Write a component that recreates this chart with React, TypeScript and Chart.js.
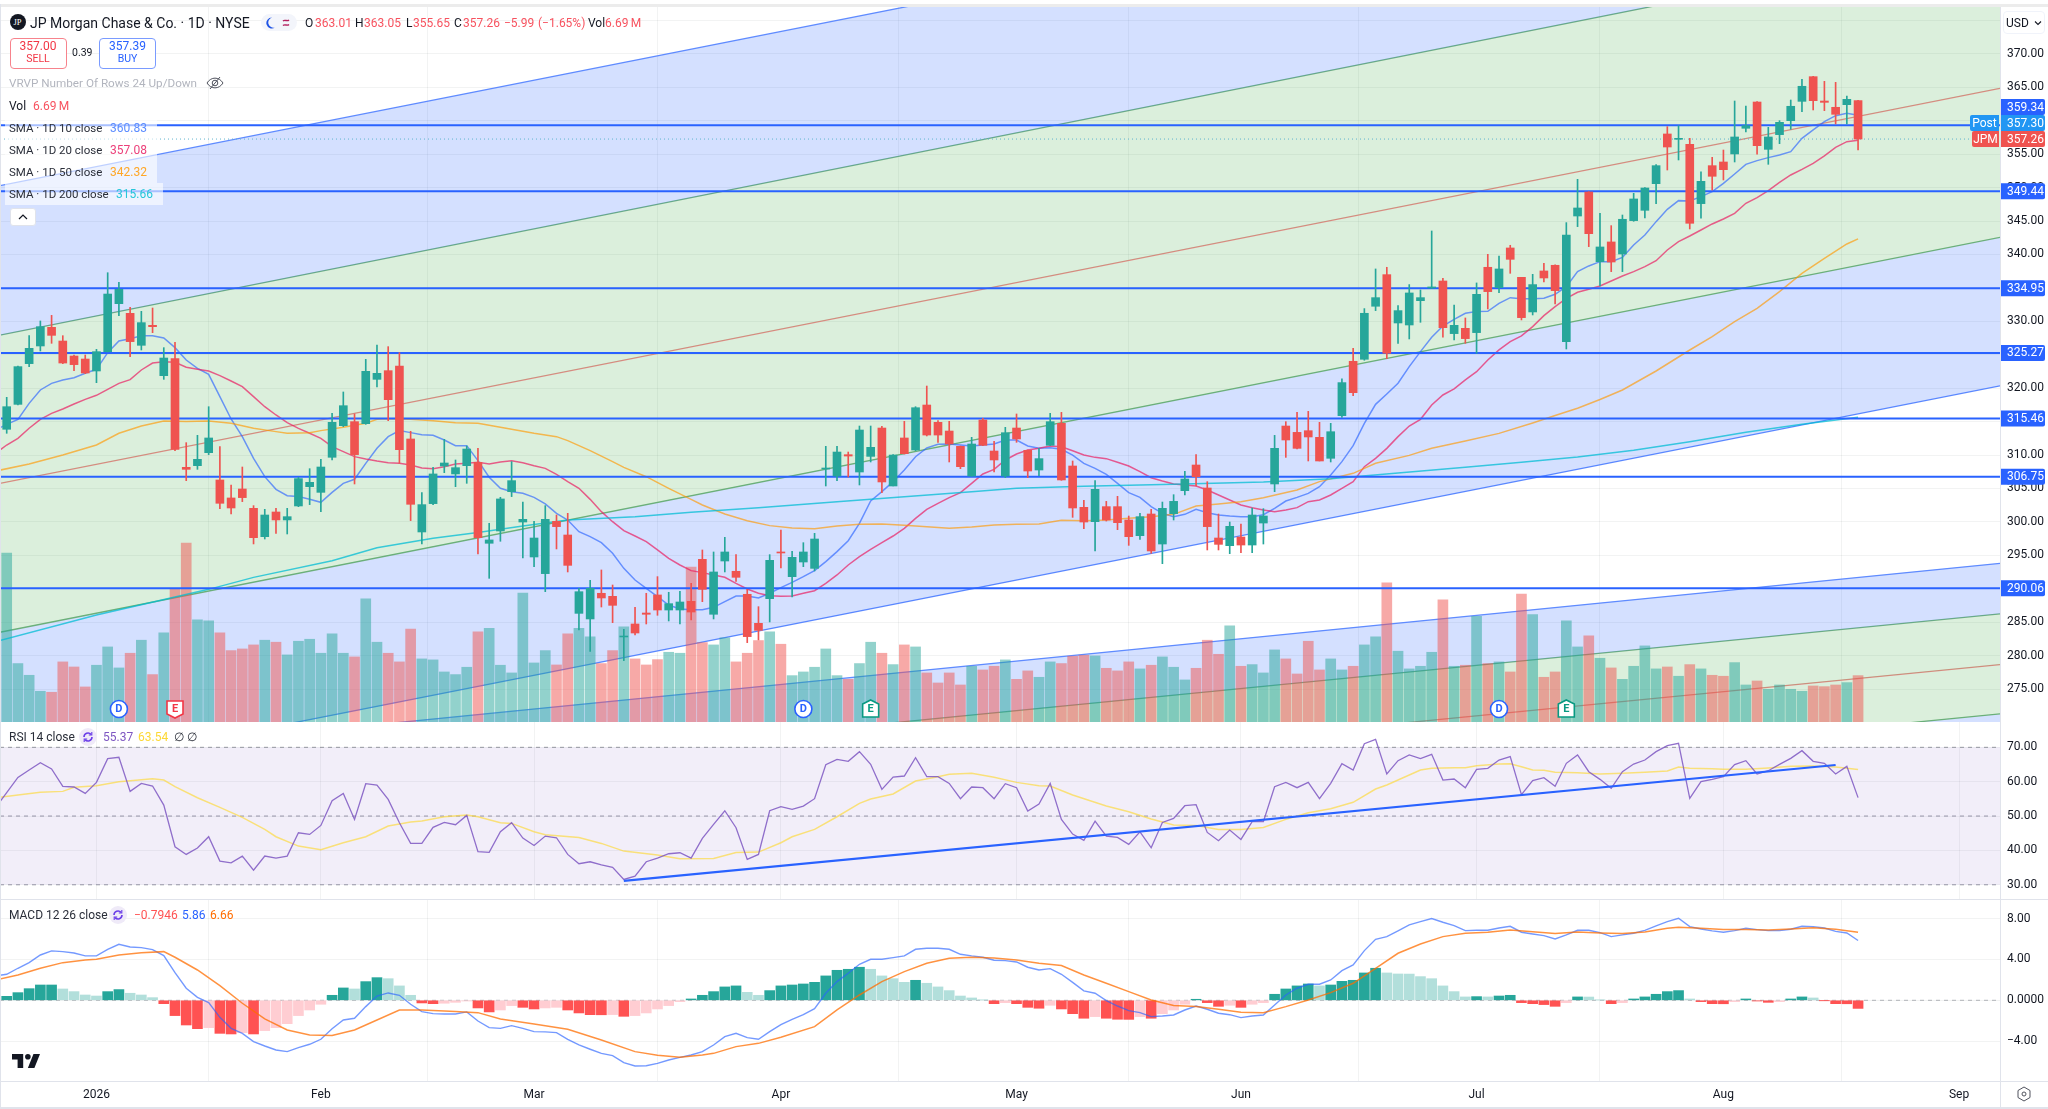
import React, { useEffect, useRef } from "react";
import { Chart, registerables } from "chart.js";

Chart.register(...registerables);

const opens = [313.85,317.58,323.67,326.31,329.10,327.05,324.81,324.36,322.57,325.46,
332.64,331.19,326.41,329.40,321.87,324.41,308.16,308.41,310.35,306.27,
303.58,304.92,302.03,297.79,301.48,300.29,302.38,305.27,304.42,309.66,
314.39,314.99,314.69,321.32,322.62,323.32,312.40,298.49,302.73,308.36,
307.17,308.41,308.91,296.80,298.64,304.52,299.98,294.75,292.26,300.08,
298.04,286.32,285.48,289.32,288.87,282.79,284.73,286.37,289.07,286.82,
286.82,288.12,294.40,286.18,294.15,292.61,289.17,284.83,288.52,295.50,
291.81,294.00,293.05,307.91,306.86,310.05,307.46,309.80,314.04,305.37,
312.55,310.75,317.48,314.89,313.59,311.30,306.86,315.24,310.60,306.86,
314.04,310.70,307.76,311.45,314.74,308.36,302.18,300.03,302.28,302.28,
300.28,297.94,301.18,296.69,301.23,304.67,308.51,305.07,297.59,296.44,
297.74,296.54,299.83,305.67,314.34,313.39,313.64,312.65,309.51,315.89,
324.02,324.32,332.25,336.98,329.75,329.45,333.09,334.99,336.03,328.16,
328.95,328.31,338.08,335.04,340.97,336.58,331.40,337.53,338.38,326.96,
345.75,349.34,338.92,341.87,340.07,345.06,346.60,350.59,358.02,357.22,
356.47,347.60,353.28,353.83,355.03,358.87,362.80,355.72,357.92,360.01,
362.90,366.59,362.95,362.01,362.40,363.01];

const closes = [317.23,323.22,325.96,329.20,327.90,323.76,323.52,322.27,325.46,334.08,
334.78,326.96,329.80,329.20,324.51,310.85,307.86,309.36,312.55,302.78,
302.08,303.63,297.64,301.03,300.29,300.78,306.47,305.92,308.21,314.89,
317.38,310.06,322.52,322.22,318.28,310.80,302.63,302.58,307.17,308.81,
308.11,310.90,297.64,297.30,303.43,306.17,300.38,297.59,300.38,299.29,
293.50,289.56,290.06,288.62,287.52,282.93,283.38,286.18,286.82,287.77,
288.02,286.52,289.91,292.51,295.50,291.71,282.84,283.78,294.25,295.35,
294.70,295.50,297.44,308.06,310.45,309.85,313.74,311.15,305.97,310.00,
310.20,317.08,312.99,312.99,311.65,308.26,311.65,311.45,309.26,313.34,
312.40,307.61,309.46,314.99,306.27,302.08,299.98,304.87,300.28,299.88,
297.79,300.78,295.65,302.03,303.07,306.41,306.76,299.29,296.64,299.34,
296.54,301.03,300.88,311.00,312.25,311.00,312.70,309.11,313.49,320.83,
319.33,331.20,333.54,325.22,331.60,334.24,333.54,335.14,329.05,329.40,
327.41,334.04,334.44,337.83,339.27,330.55,335.49,336.48,334.59,342.91,
346.95,343.11,341.12,338.87,345.26,348.30,349.94,353.28,356.07,357.37,
344.66,350.94,351.69,352.68,357.57,359.26,356.27,357.57,359.76,362.16,
365.15,363.00,362.75,360.96,363.20,357.26];

const highs = [318.63,323.30,327.85,330.05,330.89,327.85,324.96,324.96,325.81,337.27,
335.83,332.09,331.49,331.99,326.06,326.86,311.85,312.95,317.23,311.25,
305.52,308.21,302.43,301.88,302.03,302.03,306.67,307.96,309.36,316.24,
319.43,316.14,324.31,326.46,326.21,325.31,313.55,304.37,308.16,312.35,
309.26,311.35,311.00,299.79,303.68,309.01,302.97,300.08,302.43,301.03,
301.28,290.06,291.26,292.81,290.56,283.93,287.22,289.32,291.81,289.47,
289.61,290.81,295.80,295.50,297.69,295.10,289.91,287.32,295.10,298.79,
295.60,296.89,298.29,311.30,311.30,310.45,314.34,314.34,314.29,310.05,
315.04,317.23,320.32,315.14,315.04,311.35,312.65,315.49,312.05,314.14,
316.14,310.75,311.00,316.24,316.38,309.11,303.22,306.17,303.07,303.82,
300.88,301.28,301.88,302.97,304.07,307.56,310.05,306.02,301.18,299.98,
299.68,302.08,301.98,312.94,314.99,316.38,316.53,314.89,314.74,321.38,
325.96,331.90,337.83,338.08,332.34,335.49,334.69,343.51,336.43,332.44,
330.50,335.74,340.02,339.77,341.37,336.58,337.03,338.68,338.43,344.76,
351.24,349.39,346.15,344.31,345.90,349.14,349.99,353.43,359.11,359.26,
357.37,352.34,354.53,355.62,362.95,362.21,362.85,359.01,360.01,363.10,
366.19,366.64,365.89,365.74,363.70,363.05];

const lows = [313.25,317.48,323.22,325.56,326.71,323.67,322.62,322.17,320.82,325.41,
330.84,324.71,325.71,328.30,321.32,310.65,306.17,307.86,310.06,301.98,
301.18,303.03,296.70,297.44,298.29,298.19,302.28,302.58,301.53,309.26,
314.24,305.67,314.59,320.18,315.14,308.76,300.19,296.70,302.58,307.36,
305.27,305.77,295.20,291.56,297.10,303.78,294.60,293.30,289.56,295.95,
292.51,283.83,280.64,287.27,284.93,279.25,283.08,284.73,286.03,285.18,
284.73,285.33,288.07,285.48,292.51,291.11,281.94,282.34,285.03,293.10,
288.77,293.30,292.66,305.37,306.17,306.71,305.52,308.96,304.37,305.37,
310.15,310.65,312.85,311.90,308.96,307.96,306.81,311.40,307.46,306.61,
311.90,306.61,306.91,311.40,306.22,300.68,298.99,295.65,300.13,298.84,
296.49,297.39,295.30,293.75,300.28,304.02,305.37,295.80,295.80,295.25,
295.40,295.40,296.69,304.52,309.65,310.90,309.11,309.11,308.96,315.64,
318.88,324.17,331.60,324.42,326.71,327.36,329.85,334.89,327.61,327.21,
326.71,325.22,331.85,334.29,337.18,330.20,330.95,335.88,332.59,325.86,
344.16,341.17,335.29,337.43,337.43,344.96,345.45,347.60,352.63,354.13,
343.81,345.41,349.64,351.14,353.83,358.32,354.98,353.48,356.57,358.72,
361.36,361.61,361.51,359.51,359.51,355.65];

const volumes = [24.36,8.43,6.74,4.43,4.29,8.67,7.94,5.06,8.19,10.83,
7.80,9.92,11.80,6.84,12.86,19.26,25.81,14.73,14.59,12.86,
10.30,10.54,11.12,11.80,11.51,9.68,11.65,11.94,9.92,12.71,
9.92,9.39,17.77,11.51,9.92,8.67,13.39,9.10,8.96,7.22,
6.84,7.90,13.00,13.53,8.19,7.08,18.59,8.52,10.30,8.23,
12.71,13.53,12.28,8.43,10.30,13.72,9.10,8.23,9.00,10.06,
9.92,22.34,11.46,11.12,12.13,8.67,9.92,11.75,13.00,11.22,
6.69,7.22,7.90,10.54,6.69,6.16,8.43,11.51,9.92,8.28,
11.12,10.83,7.08,5.63,7.08,5.34,8.04,7.51,8.04,8.96,
6.16,7.37,6.45,8.67,8.43,9.49,9.63,9.53,7.75,7.37,
8.67,7.66,8.19,9.39,7.90,6.07,7.75,11.80,9.77,13.87,
8.04,8.28,7.08,10.40,9.10,6.93,11.65,7.51,9.10,7.51,
8.04,11.12,12.28,20.08,10.21,7.66,8.04,10.06,17.62,8.04,
8.19,15.26,8.43,8.67,7.22,18.44,15.50,6.45,7.22,14.59,
10.83,12.42,9.20,7.80,6.16,8.04,10.98,7.66,7.94,6.60,
8.28,7.66,6.74,6.60,8.57,5.34,5.92,4.72,5.34,4.72,
4.43,5.20,5.10,5.34,5.68,6.69];

// The line series below begin one session before the first visible candle.
const sma10 = [313.74,314.59,315.34,317.73,319.73,320.72,321.22,321.57,322.22,322.82,325.31,
327.05,327.40,327.85,327.85,327.50,326.06,324.21,322.97,322.07,318.73,
315.39,312.75,309.51,306.77,304.87,303.92,303.78,303.38,302.93,304.42,
305.77,306.37,308.76,311.00,312.75,313.65,313.35,313.05,312.95,312.25,
311.40,311.40,309.16,306.67,305.02,304.52,304.27,303.67,302.68,301.28,
300.28,298.54,297.79,296.89,295.30,293.05,291.31,290.06,288.82,287.57,
286.97,286.87,286.87,287.22,288.07,288.92,288.92,288.62,289.32,290.16,
290.96,291.81,292.71,294.05,295.55,297.19,299.78,303.12,304.52,306.02,
307.76,309.75,311.05,311.60,311.65,311.50,311.35,311.50,311.65,312.25,
312.25,311.35,311.00,311.10,310.85,310.00,308.76,308.01,307.11,305.77,
304.37,303.67,302.28,301.28,300.78,301.13,301.88,301.38,301.03,300.88,
300.78,300.78,301.08,302.03,303.12,303.67,304.27,305.27,307.01,309.01,
311.40,314.74,317.58,319.13,320.73,323.22,325.47,327.61,329.30,330.30,
331.20,331.45,331.50,332.69,333.54,333.39,333.39,333.44,334.04,335.19,
337.43,338.28,338.92,338.92,339.57,341.42,342.91,344.91,346.75,348.05,
348.00,348.65,349.39,350.64,352.04,353.48,354.03,354.48,354.88,355.38,
357.37,358.62,359.86,360.76,361.11,360.83];

const sma20 = [310.25,311.50,312.50,314.00,315.34,316.24,316.89,317.63,318.33,318.93,319.83,
320.72,321.27,322.72,323.76,323.96,323.86,323.12,322.82,322.57,321.87,
321.07,320.23,318.73,317.23,315.99,314.84,313.99,313.25,312.50,311.25,
310.50,309.76,309.41,309.11,308.86,308.76,308.51,308.06,307.96,308.26,
308.66,308.76,308.91,308.66,308.96,309.16,308.86,308.41,308.01,307.11,
306.02,305.02,303.37,301.53,300.03,298.69,297.89,297.04,295.80,294.55,
293.55,292.71,292.41,292.06,291.71,290.81,289.96,289.32,288.97,288.87,
288.92,289.32,289.71,290.81,292.06,293.55,294.80,295.90,296.89,297.89,
299.04,300.53,301.88,302.78,303.62,304.37,305.77,307.16,307.86,309.26,
310.15,310.75,311.00,311.35,311.25,310.65,310.00,309.65,309.46,308.91,
308.36,307.51,306.61,306.12,305.67,305.52,305.37,304.77,304.02,303.27,
302.53,302.13,301.78,301.53,301.78,302.13,303.02,303.27,304.02,305.02,
306.02,308.26,309.51,311.00,312.75,314.34,315.34,317.48,318.98,319.90,
321.23,322.47,324.22,325.72,326.96,327.81,329.20,330.85,332.20,333.44,
334.34,334.79,335.29,336.03,336.78,337.43,338.18,339.07,340.67,341.92,
342.76,343.66,344.56,345.31,346.15,347.65,348.50,349.54,350.79,351.89,
352.73,353.63,354.73,356.02,356.87,357.08];

const sma50Sessions = [-1,2,5,8,10,12,14,16,18,20,22,24,25,27,28,30,32,33,34,36,38,40,42,44,47,49,50,52,54,55,57,59,61,62,64,66,68,70,72,74,76,78,80,82,84,86,88,90,92,94,96,98,100,102,104,106,108,110,112,115,117,120,122,125,127,130,133,136,138,140,142,144,147,150,152,154,156,158,160,162,164,165];
const sma50 = [307.60,308.66,310.00,311.50,313.25,314.34,315.09,315.00,315.09,314.74,314.00,313.50,313.25,313.35,313.65,314.14,314.74,315.34,315.44,315.34,315.14,314.84,314.74,314.14,313.25,312.75,312.15,310.65,309.01,308.16,306.76,305.02,303.37,302.53,301.18,300.18,299.44,299.09,298.99,299.39,299.63,299.68,299.49,299.29,299.04,299.24,299.54,299.63,299.69,300.23,300.18,300.28,300.53,300.78,301.13,302.38,302.68,303.02,303.62,304.77,306.02,307.26,308.76,309.95,311.00,312.10,313.24,314.80,315.90,317.00,318.30,319.73,322.57,325.71,327.71,329.95,331.95,334.44,337.18,339.42,341.57,342.32];

const sma200Sessions = [-1,8,18,22,29,33,38,42,46,50,56,61,67,74,80,86,90,96,104,112,118,124,130,135,140,145,150,155,160,165];
const sma200 = [282.08,286.07,289.91,291.70,294.20,296.14,297.54,298.43,299.38,300.28,300.78,301.43,302.13,303.02,303.77,304.52,305.02,305.32,305.62,305.97,306.46,307.31,308.16,308.91,309.70,310.70,312.00,313.40,314.60,315.66];

const rsi = [52.43,56.79,61.26,63.40,65.53,63.69,58.64,58.45,56.60,59.80,66.70,
67.09,57.18,59.51,58.74,53.20,41.07,38.83,40.68,43.98,36.89,
36.40,38.35,34.27,38.35,37.76,38.35,45.14,44.66,47.28,54.46,
56.60,49.03,59.42,59.03,54.85,48.06,42.04,42.04,46.70,48.15,
47.47,50.19,39.61,39.42,45.43,48.06,43.59,41.45,44.17,43.69,
38.83,36.12,36.70,35.82,35.05,31.55,32.52,36.70,37.76,39.03,
39.32,37.76,43.49,47.57,51.55,46.60,37.38,38.83,51.55,52.72,
51.94,52.91,55.05,64.95,66.50,65.92,68.74,65.05,57.77,61.36,
61.65,66.99,61.45,61.45,59.51,55.05,58.45,58.25,55.05,59.42,
58.25,51.45,53.49,59.51,49.03,44.76,42.91,48.54,44.17,43.78,
41.75,45.43,40.77,48.15,49.32,53.01,53.30,45.24,42.81,45.92,
43.20,48.35,48.35,58.54,59.80,58.25,59.80,55.05,59.51,65.24,
63.40,71.07,72.33,62.23,66.12,67.77,66.70,67.96,60.48,60.77,
58.25,63.59,63.88,66.31,67.28,56.21,60.29,61.16,58.64,65.34,
67.77,62.91,60.68,58.06,62.91,65.14,66.31,68.74,70.48,71.16,
55.14,60.00,60.68,61.45,64.95,66.12,62.23,63.20,65.05,66.79,
69.03,65.92,65.34,62.23,64.46,55.37];

const rsiMaSessions = [-1,1,3,5,6,8,10,13,14,15,17,19,21,23,24,26,28,30,32,34,36,37,39,41,42,44,45,47,48,51,53,55,58,60,63,65,67,69,70,72,74,76,77,79,81,83,84,86,88,90,92,93,95,98,100,102,104,106,108,110,112,114,116,118,120,122,123,125,126,127,129,130,131,133,134,135,136,137,138,140,142,144,146,148,149,150,152,153,155,157,159,161,163,165];
const rsiMa = [55.30,56.11,56.90,57.18,58.35,58.83,60.00,60.87,60.48,58.54,55.34,52.52,49.61,46.11,43.98,41.26,40.19,42.23,43.98,47.08,48.25,48.54,49.80,50.29,49.80,48.06,47.86,45.43,44.56,43.78,42.04,39.80,38.64,37.57,37.67,39.42,39.51,42.23,43.98,46.11,49.80,53.69,54.95,56.41,60.19,61.45,62.13,62.43,61.26,59.80,58.83,58.74,56.11,52.91,51.26,49.12,47.38,47.28,46.11,46.11,46.70,49.03,50.97,52.13,54.00,57.86,59.03,61.94,63.40,63.88,64.08,64.08,64.66,65.14,65.24,64.37,63.40,63.30,62.72,62.62,62.23,62.43,62.72,63.11,64.27,63.88,63.78,63.59,63.59,63.98,64.46,64.56,64.27,63.54];

const macdHist = [0.39,0.75,1.14,1.50,1.50,1.11,0.85,0.52,0.42,0.85,
1.05,0.69,0.52,0.26,-0.33,-1.50,-2.42,-2.78,-2.68,-3.24,
-3.30,-3.17,-3.30,-2.97,-2.68,-2.29,-1.50,-0.95,-0.39,0.49,
1.21,1.11,1.83,2.22,2.12,1.41,0.49,-0.26,-0.33,-0.29,
-0.20,-0.07,-0.75,-1.14,-0.95,-0.52,-0.69,-0.85,-0.75,-0.69,
-0.95,-1.24,-1.41,-1.42,-1.40,-1.57,-1.50,-1.24,-0.85,-0.52,
-0.13,0.13,0.49,0.85,1.31,1.41,0.78,0.49,0.95,1.41,
1.50,1.60,1.76,2.39,2.94,3.04,3.24,3.04,2.39,2.12,
1.76,1.96,1.67,1.31,0.95,0.42,0.23,0.03,-0.33,-0.23,
-0.33,-0.69,-0.78,-0.49,-0.85,-1.31,-1.76,-1.60,-1.76,-1.86,
-1.87,-1.60,-1.76,-1.31,-0.95,-0.39,0.10,-0.23,-0.59,-0.49,
-0.69,-0.39,-0.23,0.59,1.11,1.41,1.60,1.41,1.50,1.86,
1.96,2.68,3.14,2.68,2.58,2.57,2.32,2.12,1.41,0.85,
0.33,0.36,0.33,0.42,0.49,-0.23,-0.33,-0.42,-0.59,-0.23,
0.33,0.32,0.03,-0.33,-0.23,0.13,0.33,0.59,0.85,0.95,
0.13,-0.13,-0.33,-0.34,-0.13,0.13,-0.07,-0.20,-0.13,0.13,
0.33,0.23,-0.02,-0.33,-0.34,-0.7946];

const macdLine = [2.39,2.55,3.14,3.69,4.44,4.84,4.77,4.64,4.35,4.35,5.00,
5.49,5.23,5.16,4.97,4.38,2.71,1.18,0.29,-0.23,-1.67,
-2.75,-3.24,-4.05,-4.48,-4.87,-5.03,-4.64,-4.31,-3.82,-2.78,
-1.93,-1.76,-0.62,0.42,0.72,0.49,-0.39,-1.11,-1.31,-1.34,
-1.34,-1.14,-2.03,-2.68,-2.75,-2.48,-2.75,-3.07,-3.10,-3.17,
-3.82,-4.38,-4.80,-5.20,-5.42,-6.11,-6.44,-6.41,-6.18,-5.85,
-5.59,-5.36,-5.03,-4.38,-3.56,-3.24,-3.66,-3.82,-3.07,-2.39,
-1.86,-1.41,-0.82,0.69,1.83,2.65,3.53,4.02,4.02,4.18,
4.35,5.00,5.10,5.10,5.00,4.51,4.35,4.22,3.92,3.89,
3.76,3.24,2.97,3.10,2.55,1.76,0.92,0.69,-0.03,-0.56,
-1.01,-1.21,-1.60,-1.54,-1.44,-0.95,-0.56,-0.88,-1.27,-1.41,
-1.70,-1.54,-1.44,-0.46,0.52,1.18,1.57,1.57,1.99,2.91,
3.46,4.87,5.98,6.24,6.80,7.39,7.71,8.01,7.65,7.32,
6.83,6.86,6.86,7.09,7.25,6.67,6.50,6.34,6.01,6.41,
6.86,6.86,6.63,6.24,6.41,6.57,6.86,7.29,7.71,8.04,
7.22,6.99,6.80,6.67,6.83,7.06,6.93,6.83,6.83,6.96,
7.25,7.22,7.09,6.76,6.60,5.86];

const signalSessions = [-1,1,3,5,7,8,10,12,14,15,17,19,21,23,25,27,29,31,33,35,37,40,42,44,47,50,53,56,58,60,62,63,65,67,69,72,74,76,78,80,82,84,86,88,90,92,94,96,98,100,102,104,106,108,110,112,114,116,118,120,122,124,126,128,130,132,134,136,138,140,142,144,146,148,149,151,153,155,157,159,161,163,165];
const signalLine = [2.00,2.48,3.14,3.69,3.95,4.02,4.44,4.67,4.77,4.22,2.97,1.44,-0.29,-1.83,-2.91,-3.40,-3.46,-2.91,-1.93,-0.95,-0.95,-1.11,-1.21,-1.83,-2.32,-2.84,-3.89,-5.03,-5.39,-5.59,-5.36,-5.20,-4.54,-4.22,-3.63,-2.58,-0.95,0.52,1.83,2.81,3.63,4.12,4.22,4.15,3.95,3.63,3.40,2.48,1.67,0.85,0.03,-0.52,-0.62,-0.88,-1.18,-1.21,-0.62,0.03,0.75,1.67,3.14,4.61,5.52,6.24,6.57,6.67,6.90,6.73,6.54,6.70,6.60,6.54,6.70,7.06,7.16,7.06,6.93,6.93,6.90,6.99,7.12,6.96,6.66];

const levels = [359.34, 349.44, 334.95, 325.27, 315.46, 306.75, 290.06];
const lastClose = 357.26;
const tagValues = [359.34, 357.30, 357.26, 349.44, 334.95, 325.27, 315.46, 306.75, 290.06];
const tagNames = ["", "Post", "JPM", "", "", "", "", "", ""];
const tagColors = ["#2962ff", "#2196f3", "#ef5350", "#2962ff", "#2962ff", "#2962ff", "#2962ff", "#2962ff", "#2962ff"];

// Two-point sloped channel levels (price at the left edge, price at the right edge).
const upperChannelLeft = [350.28, 327.92, 305.77, 283.49, 261.28];
const upperChannelRight = [409.36, 387.45, 364.85, 342.57, 320.35];
const upperChannelLines = ["#5f8bff", "#6fb07f", "#e08a84", "#6fb07f", "#5f8bff"];
const upperChannelFills = ["rgba(41,98,255,0.2)", "rgba(76,175,80,0.2)", "rgba(76,175,80,0.2)", "rgba(41,98,255,0.2)", ""];
const lowerChannelLeft = [264.07, 256.80, 249.40, 241.96];
const lowerChannelRight = [293.81, 286.25, 278.64, 271.28];
const lowerChannelLines = ["#5f8bff", "#6fb07f", "#e08a84", "#6fb07f"];
const lowerChannelFills = ["rgba(41,98,255,0.2)", "rgba(76,175,80,0.2)", "rgba(76,175,80,0.2)", "rgba(41,98,255,0.2)"];

const rsiTrendSessions = [55, 163];
const rsiTrendValues = [31.16, 64.85];
const rsiBands = [70, 50, 30];

const monthSessions = [8, 28, 47, 69, 90, 110, 131, 153, 174];
const monthLabels = ["2026", "Feb", "Mar", "Apr", "May", "Jun", "Jul", "Aug", "Sep"];
const markerSessions = [10, 15, 71, 77, 133, 139];
const markerLetters = ["D", "E", "D", "E", "D", "E"];
const markerColors = ["#2962ff", "#f23645", "#2962ff", "#089981", "#2962ff", "#089981"];

const XMIN = -0.597;
const XMAX = 177.65;
const GRID = "rgba(42,46,57,0.06)";
const FONT = "Roboto, 'Liberation Sans', sans-serif";
const INK = "#131722";
const GREEN = "#26a69a";
const RED = "#ef5350";

const series = (v: number[]) => v.map((y, k) => ({ x: k - 1, y }));
const pairs = (xs: number[], v: number[]) => v.map((y, k) => ({ x: xs[k], y }));
const span = (a: number, b: number) => [{ x: XMIN, y: a }, { x: XMAX, y: b }];

function xScale(showLabels: boolean) {
  return {
    type: "linear" as const,
    min: XMIN,
    max: XMAX,
    offset: false,
    afterBuildTicks: (s: any) => {
      s.ticks = monthSessions.map((value) => ({ value }));
    },
    afterFit: (s: any) => {
      s.height = showLabels ? 28 : 0;
      s.paddingLeft = 0;
      s.paddingRight = 0;
    },
    grid: { color: GRID, drawTicks: false },
    border: { display: false },
    ticks: {
      display: showLabels,
      autoSkip: false,
      maxRotation: 0,
      padding: 7,
      color: INK,
      font: { family: FONT, size: 12 },
      callback: (v: any) => monthLabels[monthSessions.indexOf(Number(v))] ?? "",
    },
  };
}

function yScale(min: number, max: number, step: number, fmt: (v: number) => string) {
  return {
    position: "right" as const,
    min,
    max,
    afterFit: (s: any) => {
      s.width = 48;
      s.paddingTop = 0;
      s.paddingBottom = 0;
    },
    grid: { color: GRID, drawTicks: false },
    border: { display: false },
    ticks: {
      stepSize: step,
      includeBounds: false,
      padding: 7,
      color: INK,
      autoSkip: false,
      font: { family: FONT, size: 12 },
      callback: (v: any) => fmt(Number(v)),
    },
  };
}

const line = (data: any[], color: string, width: number, order: number, extra: any = {}) => ({
  type: "line" as const,
  data,
  borderColor: color,
  borderWidth: width,
  pointRadius: 0,
  tension: 0,
  fill: false,
  order,
  ...extra,
});

const tagPlugin = {
  id: "tags",
  afterDraw(chart: any) {
    const { ctx, scales, chartArea } = chart;
    const y = scales.y;
    const h = 16;
    const placed: number[] = [];
    const idx = tagValues.map((_, i) => i).sort((a, b) => tagValues[a] - tagValues[b]);
    let prev = Infinity;
    idx.forEach((i) => {
      let c = y.getPixelForValue(tagValues[i]);
      if (prev - c < h) c = prev - h;
      placed[i] = c;
      prev = c;
    });
    ctx.save();
    ctx.font = `12px ${FONT}`;
    ctx.textBaseline = "middle";
    tagValues.forEach((v, i) => {
      const c = placed[i];
      const left = chartArea.right;
      ctx.fillStyle = tagColors[i];
      ctx.beginPath();
      ctx.roundRect(left, c - h / 2, 45, h, [0, 2, 2, 0]);
      ctx.fill();
      if (tagNames[i]) {
        const w = tagNames[i] === "Post" ? 30 : 28;
        ctx.beginPath();
        ctx.roundRect(left - w, c - h / 2, w - 1, h, [2, 0, 0, 2]);
        ctx.fill();
        ctx.fillStyle = "#fff";
        ctx.textAlign = "center";
        ctx.fillText(tagNames[i], left - w / 2 - 0.5, c + 0.5);
      }
      ctx.fillStyle = "#fff";
      ctx.textAlign = "left";
      ctx.fillText(v.toFixed(2), left + 7, c + 0.5);
    });
    ctx.restore();
  },
};

const markerPlugin = {
  id: "markers",
  afterDatasetsDraw(chart: any) {
    const { ctx, scales, chartArea } = chart;
    ctx.save();
    markerSessions.forEach((s, i) => {
      const x = scales.x.getPixelForValue(s);
      const y = chartArea.bottom - 13;
      const c = markerColors[i];
      ctx.lineWidth = 1.6;
      ctx.strokeStyle = c;
      ctx.fillStyle = "#fff";
      ctx.beginPath();
      if (markerLetters[i] === "D") {
        ctx.arc(x, y, 8.5, 0, Math.PI * 2);
      } else if (c === "#f23645") {
        ctx.moveTo(x - 8, y - 8);
        ctx.lineTo(x + 8, y - 8);
        ctx.lineTo(x + 8, y + 5);
        ctx.lineTo(x, y + 9);
        ctx.lineTo(x - 8, y + 5);
        ctx.closePath();
      } else {
        ctx.moveTo(x, y - 9);
        ctx.lineTo(x + 8, y - 5);
        ctx.lineTo(x + 8, y + 8);
        ctx.lineTo(x - 8, y + 8);
        ctx.lineTo(x - 8, y - 5);
        ctx.closePath();
      }
      ctx.fill();
      ctx.stroke();
      ctx.fillStyle = c;
      ctx.font = `bold 11px ${FONT}`;
      ctx.textAlign = "center";
      ctx.textBaseline = "middle";
      ctx.fillText(markerLetters[i], x, y + 0.5);
    });
    ctx.restore();
  },
};

const baseOptions = (scales: any, padding: any, plugins: any = {}) => ({
  responsive: false,
  animation: false as const,
  events: [] as any[],
  layout: { padding, autoPadding: false },
  plugins: { legend: { display: false }, tooltip: { enabled: false }, ...plugins },
  scales,
});

const txt = (x: number, y: number, s: string, color: string, size = 12, extra: any = {}) => (
  <span
    style={{
      position: "absolute",
      left: x,
      top: y - 10,
      height: 20,
      lineHeight: "20px",
      whiteSpace: "nowrap",
      color,
      fontSize: size,
      fontFamily: FONT,
      ...extra,
    }}
  >
    {s}
  </span>
);

const box = (x: number, y: number, w: number, h: number, style: any) => (
  <div style={{ position: "absolute", left: x, top: y, width: w, height: h, boxSizing: "border-box", ...style }} />
);

const cycleIcon = (x: number, y: number) => (
  <svg style={{ position: "absolute", left: x - 9, top: y - 9 }} width={18} height={18} viewBox="0 0 18 18">
    <circle cx="9" cy="9" r="9" fill="#efeaf8" />
    <path d="M5 9a4 4 0 0 1 7-2.6M13 9a4 4 0 0 1-7 2.6" fill="none" stroke="#6a3de8" strokeWidth="1.6" />
    <path d="M12.8 4v3h-3M5.2 14v-3h3" fill="none" stroke="#6a3de8" strokeWidth="1.1" />
  </svg>
);

export default function App() {
  const mainRef = useRef<HTMLCanvasElement>(null);
  const rsiRef = useRef<HTMLCanvasElement>(null);
  const macdRef = useRef<HTMLCanvasElement>(null);

  useEffect(() => {
    const candleColors = closes.map((c, i) => (c >= opens[i] ? GREEN : RED));
    const volColors = closes.map((c, i) => (c >= opens[i] ? "rgba(38,166,154,0.5)" : "rgba(239,83,80,0.5)"));
    const fillOf = (color: string, target: any) =>
      color ? { fill: { target, above: color, below: color }, backgroundColor: color } : {};

    const channelSets: any[] = [
      ...upperChannelLeft.map((a, i) =>
        line(span(a, upperChannelRight[i]), upperChannelLines[i], 1.3, 100, fillOf(upperChannelFills[i], "+1"))
      ),
      ...lowerChannelLeft.map((a, i) =>
        line(
          span(a, lowerChannelRight[i]),
          lowerChannelLines[i],
          1.3,
          100,
          fillOf(lowerChannelFills[i], i === lowerChannelLeft.length - 1 ? "start" : "+1")
        )
      ),
    ];

    const main = new Chart(mainRef.current as HTMLCanvasElement, {
      type: "bar",
      data: {
        datasets: [
          ...channelSets,
          {
            type: "bar",
            yAxisID: "vol",
            data: volumes.map((y, k) => ({ x: k, y })),
            backgroundColor: volColors,
            barThickness: 10,
            grouped: false,
            order: 90,
          },
          line(pairs(sma200Sessions, sma200), "rgba(0,188,212,0.75)", 1.5, 60),
          line(pairs(sma50Sessions, sma50), "rgba(255,152,0,0.65)", 1.5, 60),
          line(series(sma20), "rgba(233,30,99,0.7)", 1.5, 60),
          line(series(sma10), "rgba(41,98,255,0.65)", 1.5, 60),
          ...levels.map((v) => line(span(v, v), "#2962ff", 2, 50)),
          line(span(lastClose, lastClose), "#5fb4cf", 1, 50, { borderDash: [1, 3] }),
          {
            type: "bar",
            data: lows.map((l, k) => ({ x: k, y: [l, highs[k]] })),
            backgroundColor: candleColors,
            barThickness: 1,
            grouped: false,
            order: 20,
          },
          {
            type: "bar",
            data: opens.map((o, k) => ({ x: k, y: [o, closes[k]] })),
            backgroundColor: candleColors,
            barThickness: 8,
            grouped: false,
            order: 10,
          },
        ] as any,
      },
      options: baseOptions(
        {
          x: xScale(false),
          y: yScale(270.07, 377.16, 5, (v) => (v >= 275 && v <= 370 ? v.toFixed(2) : "")),
          vol: { display: false, min: 0, max: 103.3 },
        },
        { top: 6, left: 0, right: 0, bottom: 0 }
      ) as any,
      plugins: [markerPlugin, tagPlugin],
    });

    const rsiChart = new Chart(rsiRef.current as HTMLCanvasElement, {
      type: "line",
      data: {
        datasets: [
          line(span(70, 70), "rgba(120,123,134,0.75)", 1, 50, {
            borderDash: [4, 4],
            fill: { target: { value: 30 }, above: "rgba(126,87,194,0.1)", below: "rgba(126,87,194,0.1)" },
          }),
          ...rsiBands.slice(1).map((v) => line(span(v, v), "rgba(120,123,134,0.75)", 1, 50, { borderDash: [4, 4] })),
          line(pairs(rsiMaSessions, rsiMa), "rgba(253,216,53,0.65)", 1.5, 30),
          line(series(rsi), "rgba(126,87,194,0.85)", 1.3, 20),
          line(pairs(rsiTrendSessions, rsiTrendValues), "#2962ff", 2.2, 10),
        ] as any,
      },
      options: baseOptions(
        { x: xScale(false), y: yScale(25.86, 77.37, 10, (v) => v.toFixed(2)) },
        { top: 0, left: 0, right: 0, bottom: 0 }
      ) as any,
    });

    const histColors = macdHist.map((v, i) => {
      const prev = i > 0 ? macdHist[i - 1] : 0;
      if (v >= 0) return v >= prev ? "#26a69a" : "#b2dfdb";
      return v < prev ? "#ff5252" : "#ffcdd2";
    });

    const macdChart = new Chart(macdRef.current as HTMLCanvasElement, {
      type: "bar",
      data: {
        datasets: [
          line(span(0, 0), "rgba(120,123,134,0.55)", 1, 60, { borderDash: [4, 4] }),
          {
            type: "bar",
            data: macdHist.map((y, k) => ({ x: k, y })),
            backgroundColor: histColors,
            barThickness: 10,
            grouped: false,
            order: 50,
          },
          line(series(macdLine), "rgba(41,98,255,0.65)", 1.4, 20),
          line(pairs(signalSessions, signalLine), "rgba(255,109,0,0.75)", 1.5, 10),
        ] as any,
      },
      options: baseOptions(
        {
          x: xScale(true),
          y: yScale(-7.91, 9.83, 4, (v) => {
            if (v === 0) return "0.0000";
            return (v < 0 ? "\u2212" : "") + Math.abs(v).toFixed(2);
          }),
        },
        { top: 0, left: 0, right: 0, bottom: 0 }
      ) as any,
    });

    return () => {
      main.destroy();
      rsiChart.destroy();
      macdChart.destroy();
    };
  }, []);

  const sep = "#e0e3eb";
  const smaRows = [
    { y: 128, name: "SMA \u00b7 1D 10 close", val: "360.83", color: "#5b8cff", vx: 110 },
    { y: 150, name: "SMA \u00b7 1D 20 close", val: "357.08", color: "#ec407a", vx: 110 },
    { y: 172, name: "SMA \u00b7 1D 50 close", val: "342.32", color: "#ffa726", vx: 110 },
    { y: 194, name: "SMA \u00b7 1D 200 close", val: "315.66", color: "#26c6da", vx: 116 },
  ];

  return (
    <div style={{ position: "absolute", left: 0, top: 0, width: 2048, height: 1109, overflow: "hidden", background: "#fff" }}>
      <canvas ref={mainRef} width={2048} height={722} style={{ position: "absolute", left: 0, top: 0, width: 2048, height: 722 }} />
      <canvas ref={rsiRef} width={2048} height={177} style={{ position: "absolute", left: 0, top: 722, width: 2048, height: 177 }} />
      <canvas ref={macdRef} width={2048} height={209} style={{ position: "absolute", left: 0, top: 900, width: 2048, height: 209 }} />

      {box(0, 4, 2048, 3, { background: "#ececec" })}
      {box(0, 4, 1, 1103, { background: sep })}
      {box(2000, 7, 1, 1100, { background: sep })}
      {box(0, 898.5, 2048, 1.5, { background: sep })}
      {box(0, 1081, 2048, 1, { background: sep })}
      {box(0, 1107, 2048, 1.5, { background: sep })}

      {/* Header */}
      <div style={{ position: "absolute", left: 9.5, top: 14, width: 16, height: 16, borderRadius: 8, background: "#131722", color: "#fff", fontFamily: "'Liberation Serif', serif", fontSize: 8.5, lineHeight: "16px", textAlign: "center" }}>JP</div>
      {txt(30, 23, "JP Morgan Chase & Co. \u00b7 1D \u00b7 NYSE", INK, 14)}
      <div style={{ position: "absolute", left: 261, top: 14, width: 36, height: 17, borderRadius: 9, background: "#f3f5fb" }} />
      <svg style={{ position: "absolute", left: 264, top: 16 }} width={30} height={14} viewBox="0 0 30 14">
        <path d="M8 1.5a5.5 5.5 0 1 0 3 10 5 5 0 0 1-3-10z" fill="#1e53e5" />
        <path d="M19 5c2-2 4 1 6-1M19 9.500c2-2 4 1 6-1" stroke="#b2205e" strokeWidth="1.4" fill="none" />
      </svg>
      {txt(305, 23, "O", INK, 12)}
      {txt(315, 23, "363.01", "#f7525f", 12)}
      {txt(355, 23, "H", INK, 12)}
      {txt(364, 23, "363.05", "#f7525f", 12)}
      {txt(406, 23, "L", INK, 12)}
      {txt(413, 23, "355.65", "#f7525f", 12)}
      {txt(454, 23, "C", INK, 12)}
      {txt(463, 23, "357.26", "#f7525f", 12)}
      {txt(504, 23, "\u22125.99", "#f7525f", 12)}
      {txt(538, 23, "(\u22121.65%)", "#f7525f", 12)}
      {txt(588, 23, "Vol", INK, 12)}
      {txt(605, 23, "6.69\u2009M", "#f7525f", 12)}

      {box(9.5, 37.5, 57, 31, { border: "1px solid #f7838c", borderRadius: 4, background: "#fff" })}
      {txt(9.5, 46, "357.00", "#f23645", 12, { width: 57, textAlign: "center" })}
      {txt(9.5, 59, "SELL", "#f23645", 10.5, { width: 57, textAlign: "center" })}
      {txt(72, 52.5, "0.39", INK, 10.5, { width: 20, textAlign: "center" })}
      {box(99, 37.5, 57, 31, { border: "1px solid #7a9bff", borderRadius: 4, background: "#fff" })}
      {txt(99, 46, "357.39", "#2962ff", 12, { width: 57, textAlign: "center" })}
      {txt(99, 59, "BUY", "#2962ff", 10.5, { width: 57, textAlign: "center" })}

      {txt(9, 83, "VRVP Number Of Rows 24 Up/Down", "#b2b5be", 11.7)}
      <svg style={{ position: "absolute", left: 206, top: 76 }} width={18} height={14} viewBox="0 0 18 14">
        <path d="M1 7c4-6.500 12-6.500 16 0-4 6.500-12 6.500-16 0z" fill="none" stroke="#50535e" strokeWidth="1" />
        <circle cx="9" cy="7" r="2.800" fill="none" stroke="#50535e" strokeWidth="1" />
        <path d="M4 13L14 1" stroke="#50535e" strokeWidth="1" />
      </svg>
      {txt(9, 106, "Vol", INK, 12)}
      {txt(33, 106, "6.69\u2009M", "#f7525f", 12)}

      {smaRows.map((r) => (
        <React.Fragment key={r.name}>
          {box(5, r.y - 11, r.vx + 42, 22, { background: "rgba(255,255,255,0.6)" })}
          {txt(9, r.y, r.name, "#2a2e39", 11.5)}
          {txt(r.vx, r.y, r.val, r.color, 12)}
        </React.Fragment>
      ))}
      {box(10, 208, 25.5, 18, { background: "#fff", border: "1px solid #e0e3eb", borderRadius: 3 })}
      <svg style={{ position: "absolute", left: 17, top: 213 }} width={12} height={8} viewBox="0 0 12 8">
        <path d="M2 6l4-4 4 4" fill="none" stroke="#131722" strokeWidth="1.200" />
      </svg>

      {/* USD selector */}
      {box(2003, 11, 42, 23, { background: "#fff", border: "1px solid #f0f3fa", borderRadius: 4 })}
      {txt(2006, 22.5, "USD", INK, 12)}
      <svg style={{ position: "absolute", left: 2034, top: 20 }} width={8} height={6} viewBox="0 0 8 6">
        <path d="M1 1.500l3 3 3-3" fill="none" stroke="#131722" strokeWidth="1.100" />
      </svg>

      {/* RSI legend */}
      {txt(9, 737, "RSI 14 close", "#2a2e39", 12)}
      {cycleIcon(88, 737)}
      {txt(103, 737, "55.37", "#7e57c2", 12)}
      {txt(138, 737, "63.54", "#fdd835", 12)}
      {txt(174, 737, "\u2205", "#2a2e39", 12)}
      {txt(187, 737, "\u2205", "#2a2e39", 12)}

      {/* MACD legend */}
      {txt(9, 915, "MACD 12 26 close", "#2a2e39", 12)}
      {cycleIcon(118, 915)}
      {txt(134, 915, "\u22120.7946", "#ff5252", 12)}
      {txt(182, 915, "5.86", "#2962ff", 12)}
      {txt(210, 915, "6.66", "#ff6d00", 12)}

      {/* Watermark logo */}
      <svg style={{ position: "absolute", left: 12, top: 1053 }} width={28} height={16} viewBox="2 6 30 15">
        <path d="M14 6H2v6h6v9h6V6zm12 15h-7l6-15h7l-6 15zm-7-9a3 3 0 1 0 0-6 3 3 0 0 0 0 6z" fill="#131722" />
      </svg>

      {/* Settings */}
      <svg style={{ position: "absolute", left: 2016, top: 1086 }} width={16} height={16} viewBox="0 0 16 16">
        <path d="M8 1l6 3.500v7L8 15l-6-3.500v-7z" fill="none" stroke="#50535e" strokeWidth="1" />
        <circle cx="8" cy="8" r="2" fill="none" stroke="#50535e" strokeWidth="1" />
      </svg>
    </div>
  );
}
